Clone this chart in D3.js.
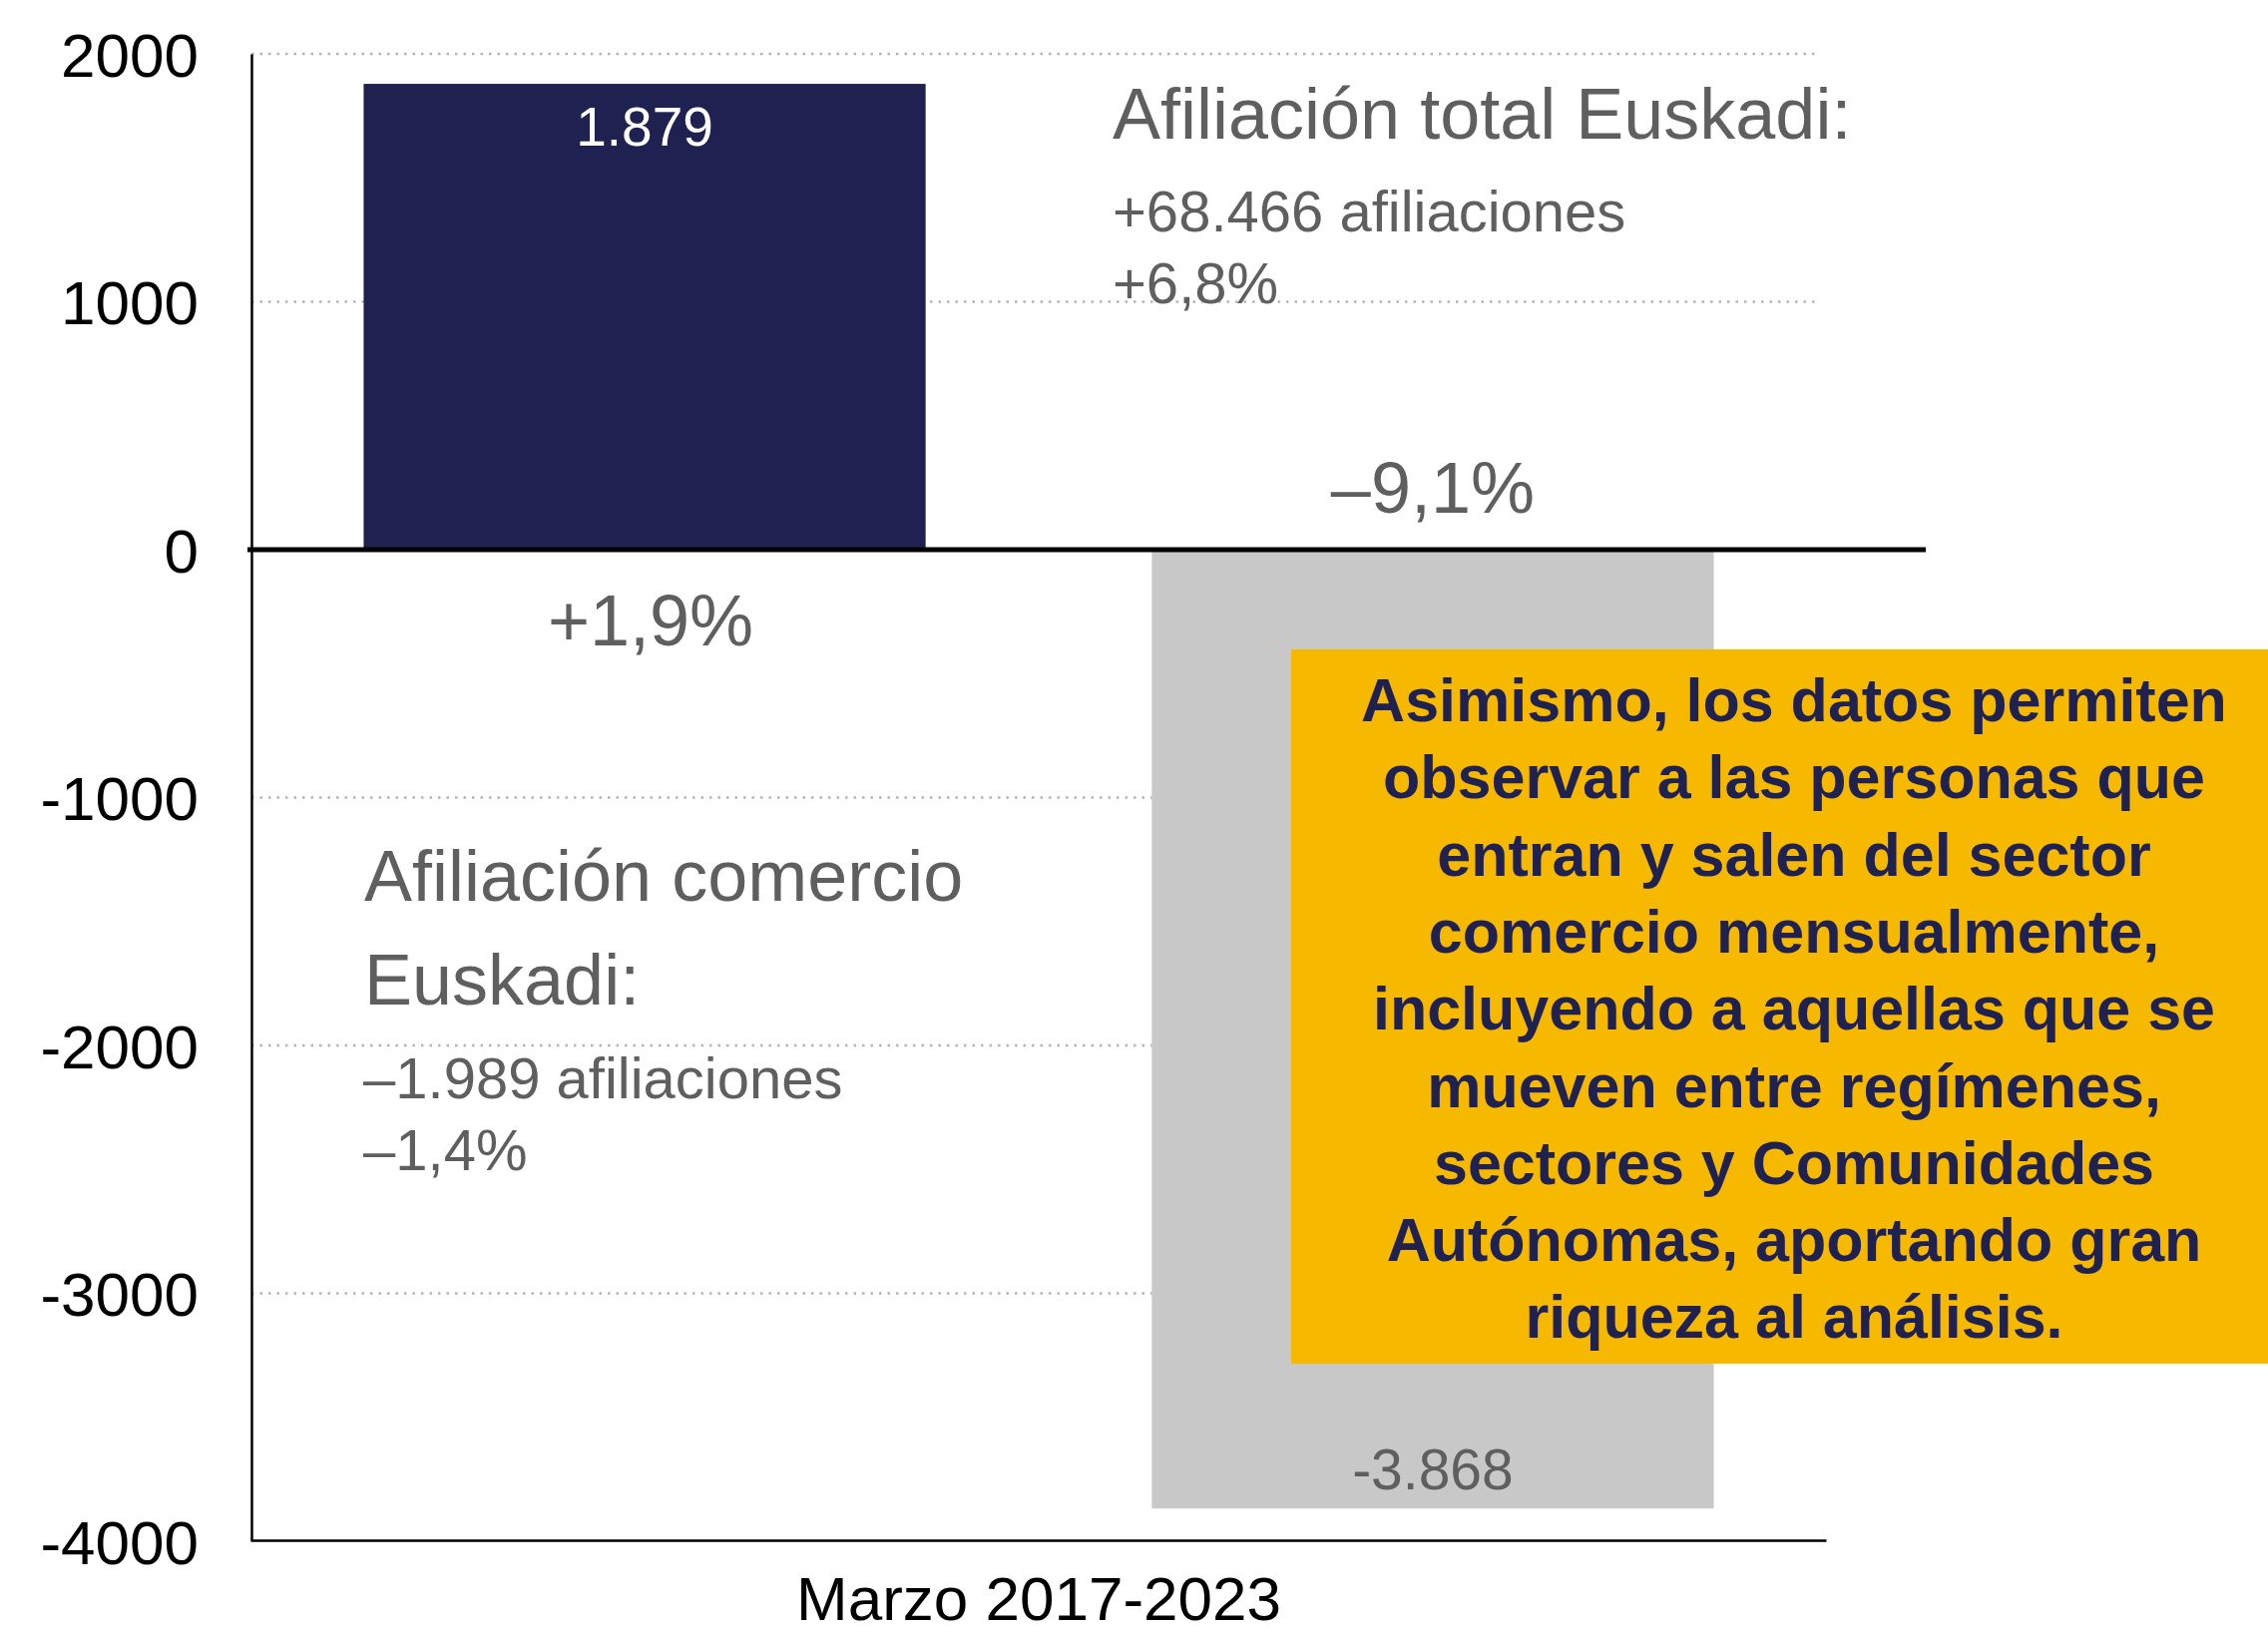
<!DOCTYPE html>
<html lang="es">
<head>
<meta charset="utf-8">
<title>Afiliación comercio Euskadi</title>
<script src="https://cdn.jsdelivr.net/npm/d3@7/dist/d3.min.js"></script>
<style>
  html, body { margin: 0; padding: 0; background: #ffffff; }
  svg { display: block; }
  text { font-family: "Liberation Sans", Arial, Helvetica, sans-serif; }
</style>
</head>
<body>
<svg id="chart" width="2273" height="1639"></svg>
<script>
// Period shown on the x axis
const categories = ["Marzo 2017-2023"];
// Two bars inside the period
const seriesKeys = ["altas", "bajas"];
const seriesValues = [1879, -3868];
const valueLabels = ["1.879", "-3.868"];
const pctLabels = ["+1,9%", "–9,1%"];
const seriesColors = ["#1f2150", "#c8c8c8"];
// Y axis
const yDomain = [-4000, 2000];
const yTicks = [-4000, -3000, -2000, -1000, 0, 1000, 2000];
const gridTicks = [-3000, -2000, -1000, 1000, 2000];

// Side notes
const totalTitle = "Afiliación total Euskadi:";
const totalLines = ["+68.466 afiliaciones", "+6,8%"];
const comercioTitle = ["Afiliación comercio", "Euskadi:"];
const comercioLines = ["–1.989 afiliaciones", "–1,4%"];
const boxLines = [
  "Asimismo, los datos permiten",
  "observar a las personas que",
  "entran y salen del sector",
  "comercio mensualmente,",
  "incluyendo a aquellas que se",
  "mueven entre regímenes,",
  "sectores y Comunidades",
  "Autónomas, aportando gran",
  "riqueza al análisis."
];

const svg = d3.select("#chart");
const W = 2273, H = 1639;
svg.append("rect").attr("width", W).attr("height", H).attr("fill", "#ffffff");

const plot = { left: 252, right: 1830, top: 54, bottom: 1545 };
const gray = "#5f5f5f";

const y = d3.scaleLinear().domain(yDomain).range([plot.bottom, plot.top]);
const x0 = d3.scaleBand().domain(categories)
  .range([plot.left, plot.right]).paddingInner(0).paddingOuter(0.0831);
const x1 = d3.scaleBand().domain(seriesKeys)
  .range([0, x0.bandwidth()]).paddingInner(0.287).paddingOuter(0);

// dotted grid lines
svg.append("g").selectAll("line").data(gridTicks).join("line")
  .attr("x1", plot.left).attr("x2", 1824)
  .attr("y1", d => y(d)).attr("y2", d => y(d))
  .attr("stroke", "#b4b4b4").attr("stroke-width", 2.5)
  .attr("stroke-dasharray", "2.5 6");

// bars
const rows = seriesKeys.map((k, i) => ({
  key: k, value: seriesValues[i], label: valueLabels[i], pct: pctLabels[i], color: seriesColors[i]
}));
const g = svg.append("g").attr("transform", `translate(${x0(categories[0])},0)`);
g.selectAll("rect").data(rows).join("rect")
  .attr("x", d => x1(d.key))
  .attr("width", x1.bandwidth())
  .attr("y", d => y(Math.max(0, d.value)))
  .attr("height", d => Math.abs(y(d.value) - y(0)))
  .attr("fill", d => d.color);

// value labels inside the bars
g.selectAll("text.val").data(rows).join("text")
  .attr("class", "val")
  .attr("x", d => x1(d.key) + x1.bandwidth() / 2)
  .attr("y", d => d.value >= 0 ? y(d.value) + 62 : y(d.value) - 19)
  .attr("text-anchor", "middle")
  .attr("font-size", d => d.value >= 0 ? 55 : 57)
  .attr("fill", d => d.value >= 0 ? "#ffffff" : gray)
  .text(d => d.label);

// percentage labels on the opposite side of the zero line
g.selectAll("text.pct").data(rows).join("text")
  .attr("class", "pct")
  .attr("x", d => x1(d.key) + x1.bandwidth() / 2 + (d.value >= 0 ? 6 : 0))
  .attr("y", d => d.value >= 0 ? y(0) + 96 : y(0) - 37)
  .attr("text-anchor", "middle")
  .attr("font-size", 72)
  .attr("fill", gray)
  .text(d => d.pct);

// y axis
const yAxis = svg.append("g")
  .attr("transform", `translate(${plot.left},0)`)
  .call(d3.axisLeft(y).tickValues(yTicks).tickFormat(d => String(d))
    .tickSize(0).tickSizeOuter(0).tickPadding(53));
yAxis.select(".domain").attr("stroke", "#000").attr("stroke-width", 2.5);
yAxis.selectAll("text").attr("font-size", 62).attr("fill", "#000")
  .attr("font-family", "Liberation Sans, Arial, sans-serif")
  .attr("dy", "0.36em");

// x axis
const xAxis = svg.append("g")
  .attr("transform", `translate(0,${plot.bottom - 1})`)
  .call(d3.axisBottom(x0).tickSize(0).tickSizeOuter(0).tickPadding(36));
xAxis.select(".domain").attr("stroke", "#000").attr("stroke-width", 2.5);
xAxis.selectAll("text").attr("font-size", 62).attr("fill", "#000")
  .attr("font-family", "Liberation Sans, Arial, sans-serif");

// zero line
svg.append("line")
  .attr("x1", plot.left - 4).attr("x2", 1930)
  .attr("y1", y(0)).attr("y2", y(0))
  .attr("stroke", "#000").attr("stroke-width", 5);

// note: total affiliation
svg.append("text").attr("x", 1115).attr("y", 139)
  .attr("font-size", 72).attr("fill", gray).text(totalTitle);
svg.append("g").selectAll("text").data(totalLines).join("text")
  .attr("x", 1115).attr("y", (d, i) => 232 + i * 72)
  .attr("font-size", 58).attr("fill", gray).text(d => d);

// note: retail affiliation
svg.append("g").selectAll("text").data(comercioTitle).join("text")
  .attr("x", 365).attr("y", (d, i) => 903 + i * 104)
  .attr("font-size", 72).attr("fill", gray).text(d => d);
svg.append("g").selectAll("text").data(comercioLines).join("text")
  .attr("x", 364).attr("y", (d, i) => 1101 + i * 72)
  .attr("font-size", 58).attr("fill", gray).text(d => d);

// highlighted box
svg.append("rect")
  .attr("x", 1294).attr("y", 651).attr("width", W - 1294).attr("height", 1367 - 651)
  .attr("fill", "#f6b900");
svg.append("g").selectAll("text").data(boxLines).join("text")
  .attr("x", 1798).attr("y", (d, i) => 723 + i * 77.3)
  .attr("text-anchor", "middle")
  .attr("font-size", 61).attr("font-weight", "bold")
  .attr("fill", "#1f2150").text(d => d);
</script>
</body>
</html>
